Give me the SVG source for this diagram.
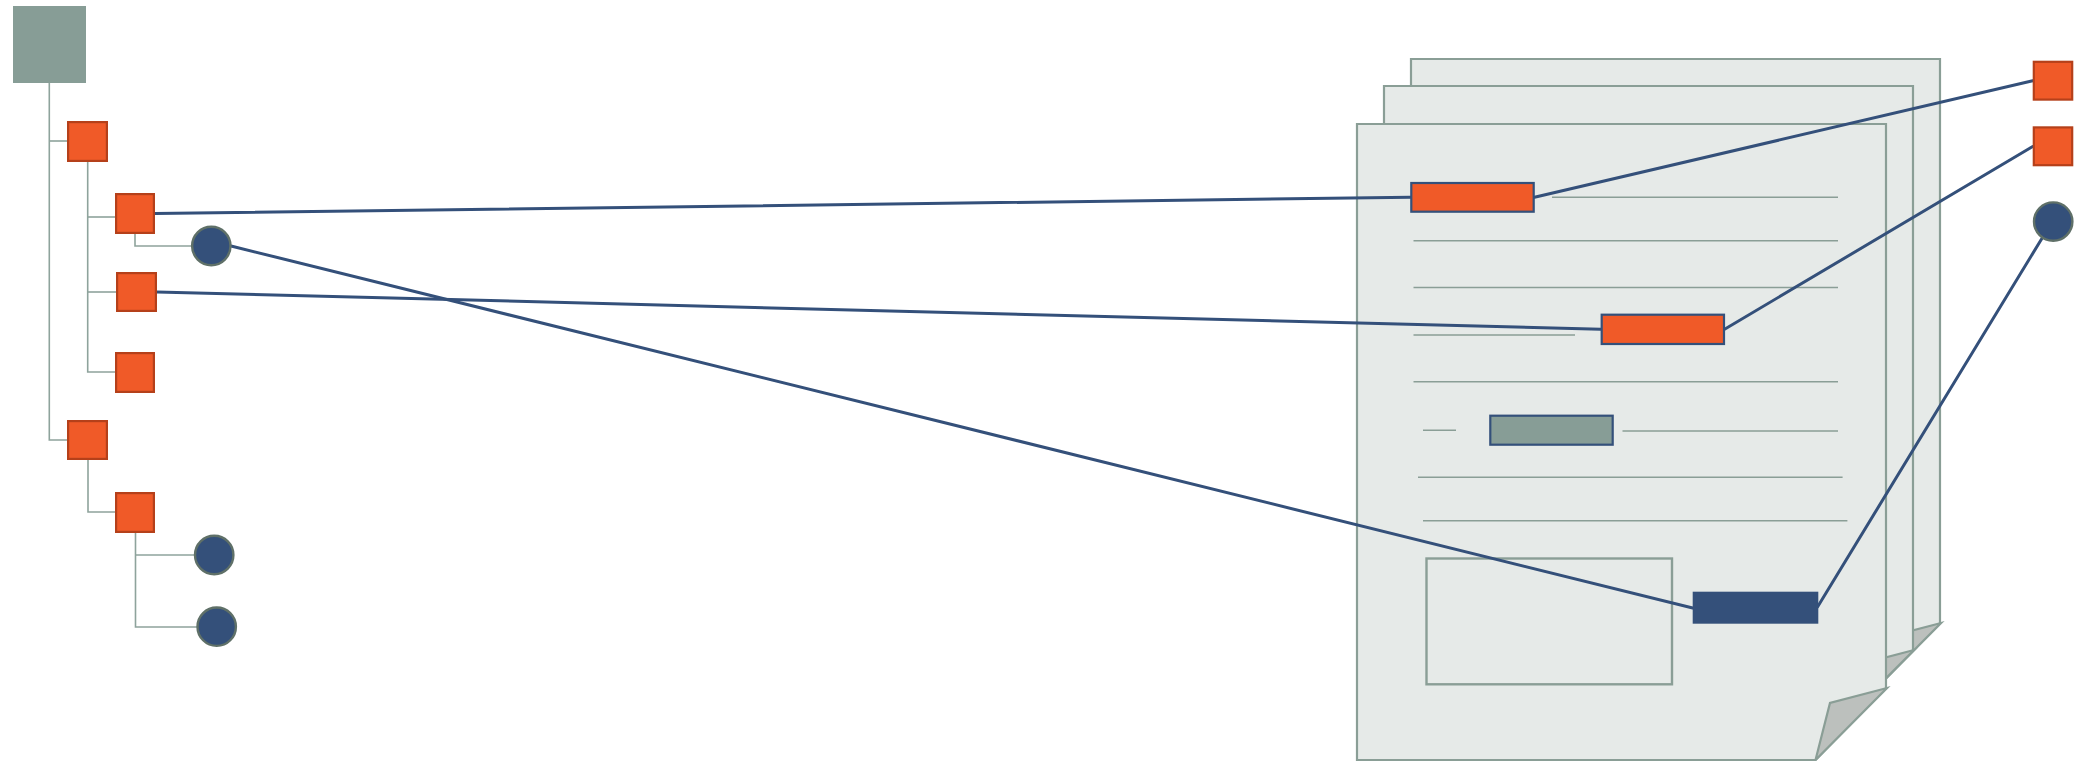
<svg xmlns="http://www.w3.org/2000/svg" width="2077" height="761" viewBox="0 0 2077 761">
<style>
.tree{fill:none;stroke:#8ea39c;stroke-width:1.6}
.link{fill:none;stroke:#34507a;stroke-width:3;stroke-linecap:round}
.sq{fill:#f05a28;stroke:#b5401a;stroke-width:2.2}
.circ{fill:#34507a;stroke:#5f7068;stroke-width:2.4}
.page{fill:#e6eae8;stroke:#8a9e96;stroke-width:2.2}
.fold{fill:#bcc0bd;stroke:#8a9e96;stroke-width:2.2;stroke-linejoin:miter}
.rule{stroke:#8a9e96;stroke-width:1.5}
.box{fill:none;stroke:#8a9e96;stroke-width:2.4}
.fo{fill:#f05a28;stroke:#34507a;stroke-width:2.2}
.fg{fill:#879d96;stroke:#34507a;stroke-width:2.2}
</style>
<defs>
<g id="pageShape">
<path class="page" d="M0,0 H529 V564 L458.5,636 H0 Z"/>
<path class="fold" d="M458.5,636 L473,579 L530,564 Z"/>
</g>
</defs>

<g id="document">
<use href="#pageShape" x="1411" y="59"/>
<use href="#pageShape" x="1384" y="86"/>
<use href="#pageShape" x="1357" y="124"/>
<g id="page-rules">
<line class="rule" x1="1552" y1="197.3" x2="1838" y2="197.3"/>
<line class="rule" x1="1413.5" y1="240.7" x2="1838" y2="240.7"/>
<line class="rule" x1="1413.5" y1="287.5" x2="1838" y2="287.5"/>
<line class="rule" x1="1413.5" y1="335" x2="1575" y2="335"/>
<line class="rule" x1="1413.5" y1="381.7" x2="1838" y2="381.7"/>
<line class="rule" x1="1423" y1="430.3" x2="1456" y2="430.3"/>
<line class="rule" x1="1622.5" y1="431" x2="1838" y2="431"/>
<line class="rule" x1="1418" y1="477.3" x2="1842.6" y2="477.3"/>
<line class="rule" x1="1423" y1="520.8" x2="1847.4" y2="520.8"/>
</g>
<rect id="image-area" class="box" x="1426.5" y="558.5" width="245.5" height="125.8"/>
</g>

<g id="connectors">
<g id="tree-lines">
<polyline class="tree" points="49.3,83 49.3,440 67,440"/>
<line class="tree" x1="49.3" y1="141" x2="67" y2="141"/>
<polyline class="tree" points="87.7,162 87.7,372 115,372"/>
<line class="tree" x1="87.7" y1="217" x2="115" y2="217"/>
<line class="tree" x1="87.7" y1="292" x2="116" y2="292"/>
<polyline class="tree" points="135,234 135,246 191,246"/>
<polyline class="tree" points="88,460 88,512 115,512"/>
<polyline class="tree" points="135.5,533 135.5,627 197,627"/>
<line class="tree" x1="135.5" y1="555" x2="194" y2="555"/>
</g>
<g id="mapping-lines">
<line class="link" x1="155" y1="213.5" x2="1410.5" y2="197.3"/>
<line class="link" x1="1534.5" y1="197.3" x2="2032.7" y2="80.7"/>
<line class="link" x1="231" y1="246" x2="1692.7" y2="608"/>
<line class="link" x1="157" y1="292" x2="1600.7" y2="329.3"/>
<line class="link" x1="1725" y1="329" x2="2032.7" y2="146.5"/>
<line class="link" x1="1817.5" y1="607" x2="2042.5" y2="237.5"/>
</g>
</g>

<g id="field-name" ><rect class="fo" x="1411.3" y="183" width="122.4" height="28.7"/></g>
<g id="field-date"><rect class="fo" x="1601.7" y="314.7" width="122.3" height="29.3"/></g>
<g id="field-static"><rect class="fg" x="1490.3" y="415.7" width="122.4" height="29"/></g>
<g id="field-signature"><rect x="1692.7" y="591.7" width="125.6" height="32" fill="#34507a"/></g>

<g id="root"><rect x="13" y="6" width="73" height="77" fill="#879d96"/></g>
<g id="node-s1"><rect class="sq" x="68.1" y="122.1" width="38.8" height="38.8"/></g>
<g id="node-s2"><rect class="sq" x="116.1" y="194.1" width="37.8" height="38.8"/></g>
<g id="node-c1"><circle class="circ" cx="211.3" cy="246" r="19.2"/></g>
<g id="node-s3"><rect class="sq" x="117.1" y="273.1" width="38.8" height="37.8"/></g>
<g id="node-s4"><rect class="sq" x="116.1" y="353.1" width="37.8" height="38.8"/></g>
<g id="node-s5"><rect class="sq" x="68.1" y="421.1" width="38.8" height="37.8"/></g>
<g id="node-s6"><rect class="sq" x="116.1" y="493.1" width="37.8" height="38.8"/></g>
<g id="node-c2"><circle class="circ" cx="214.2" cy="555" r="19.2"/></g>
<g id="node-c3"><circle class="circ" cx="216.7" cy="626.7" r="19.2"/></g>

<g id="target-r1"><rect class="sq" x="2033.8" y="61.8" width="38.4" height="37.8"/></g>
<g id="target-r2"><rect class="sq" x="2033.8" y="127.4" width="38.4" height="37.8"/></g>
<g id="target-c"><circle class="circ" cx="2053.2" cy="221.6" r="19.2"/></g>
</svg>
